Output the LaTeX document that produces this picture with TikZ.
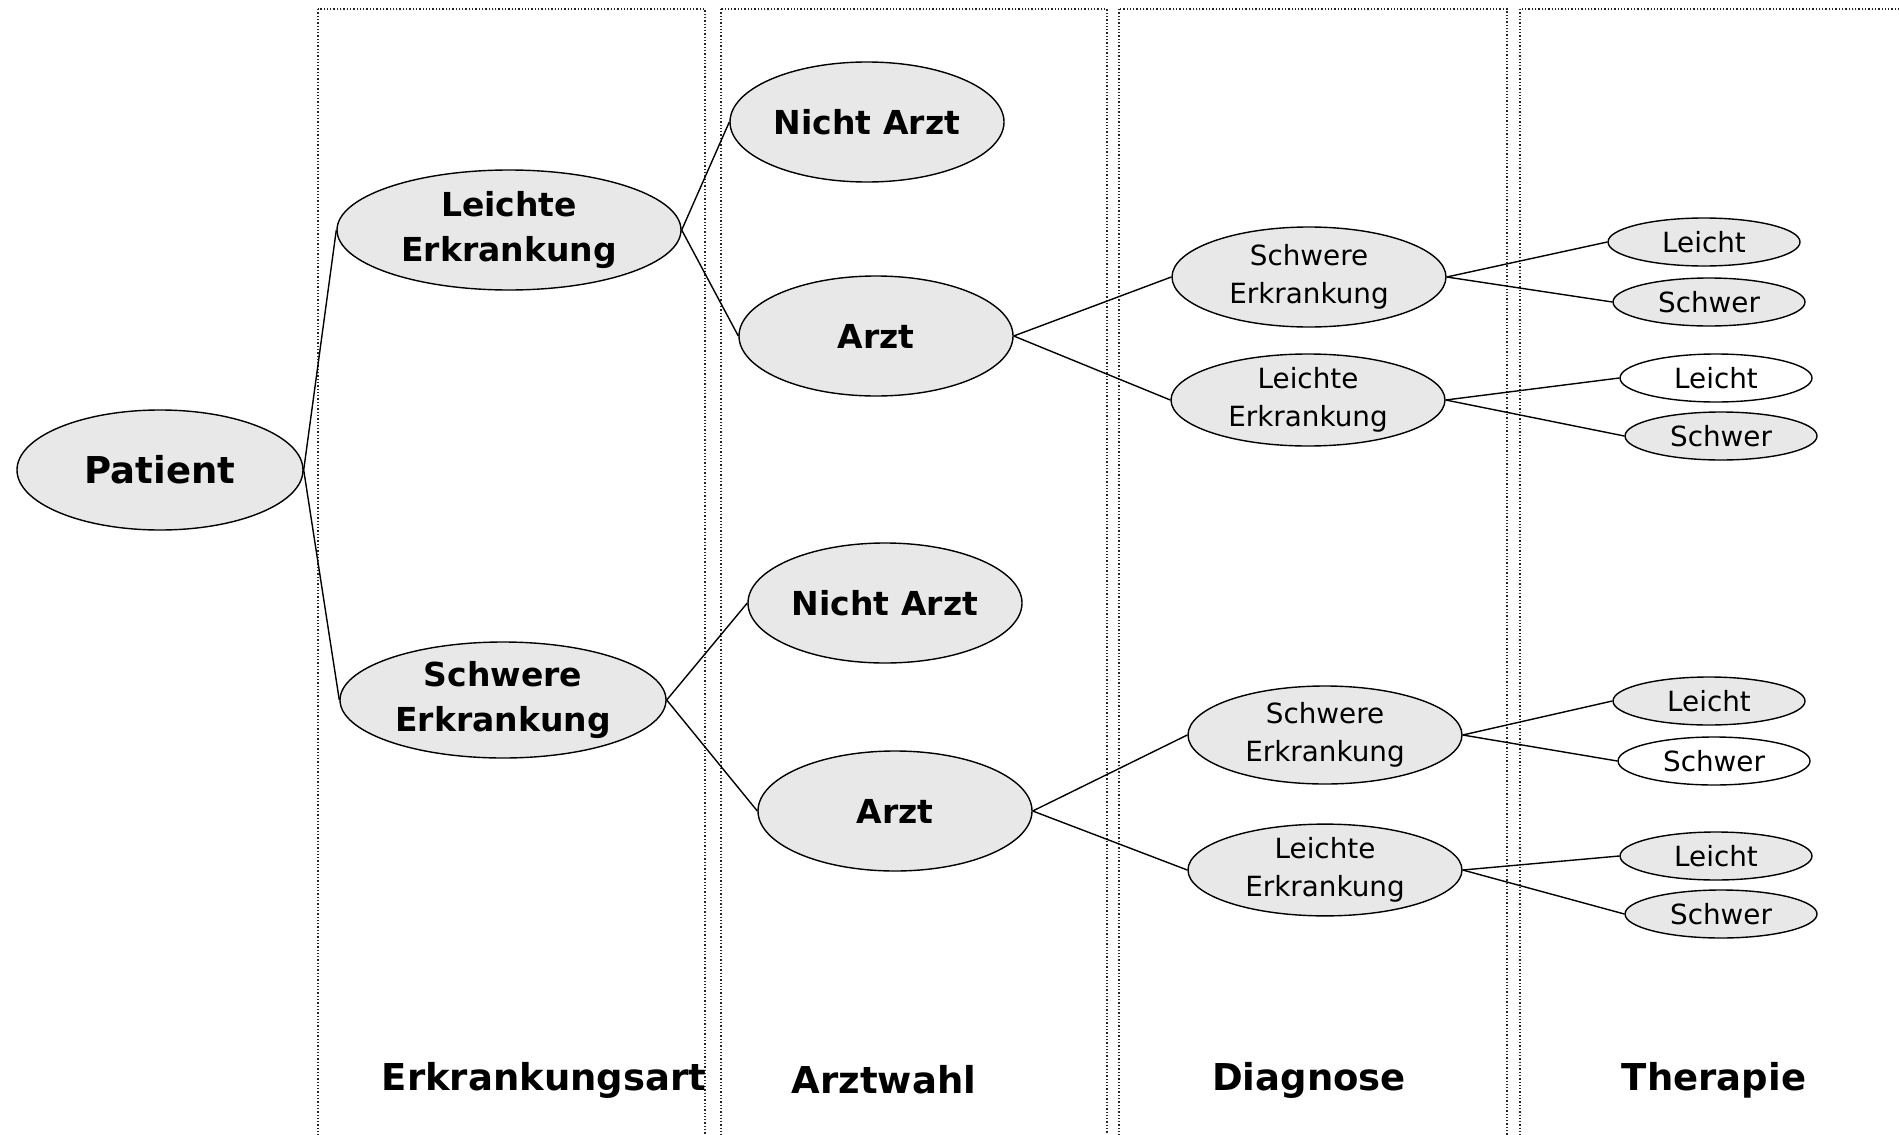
\documentclass[tikz,border=0pt]{standalone}
\usepackage{fontspec}
\setmainfont{DejaVu Sans}
\usepackage{xcolor}
\usetikzlibrary{shapes.geometric}

\definecolor{stategray}{RGB}{232,232,232}
\tikzset{
  bigstate/.style={ellipse, draw, line width=1.4pt, fill=stategray, inner sep=0pt,
    minimum width=274pt, minimum height=120pt, align=center,
    font=\bfseries\fontsize{33}{45}\selectfont},
  midstate/.style={ellipse, draw, line width=1.4pt, fill=stategray, inner sep=0pt,
    minimum width=274pt, minimum height=96pt, align=center,
    font=\fontsize{27.8}{38}\selectfont},
  leafstate/.style={ellipse, draw, line width=1.4pt, fill=stategray, inner sep=0pt,
    minimum width=192pt, minimum height=48pt,
    font=\fontsize{27.8}{38}\selectfont},
  blank/.style={fill=white},
  lane/.style={draw=black!85, dotted, line width=1.3pt},
  heading/.style={font=\bfseries\fontsize{37}{44}\selectfont},
  branch/.style={line width=1.4pt}
}

\begin{document}
\begin{tikzpicture}[x=1pt, y=-1pt]
	\useasboundingbox (0,0) rectangle (1899,1135);
	\clip (0,0) rectangle (1899,1135);

	% columns
	\draw[lane] (318,9) rectangle (705,1150);
	\draw[lane] (721,9) rectangle (1107,1150);
	\draw[lane] (1119,9) rectangle (1507,1150);
	\draw[lane] (1520,9) rectangle (1920,1150);

	\node[heading] (hErk) at (544,1080) {Erkrankungsart};
	\node[heading] (hArzt) at (884,1080) {Arztwahl};
	\node[heading] (hDiag) at (1309,1080) {Diagnose};
	\node[heading] (hTher) at (1714,1080) {Therapie};

	% tree
	\node[bigstate, minimum width=286pt, font=\bfseries\fontsize{37}{44}\selectfont] (patient) at (160,470) {Patient};
	\node[bigstate, minimum width=344pt] (leicht) at (509,230) {Leichte\\Erkrankung};
	\node[bigstate, minimum width=326pt, minimum height=116pt] (schwer) at (503,700) {Schwere\\Erkrankung};

	\node[bigstate] (nichtA) at (867,122) {Nicht Arzt};
	\node[bigstate] (arztA) at (876,336) {Arzt};
	\node[bigstate] (nichtB) at (885,603) {Nicht Arzt};
	\node[bigstate] (arztB) at (895,811) {Arzt};

	\node[midstate, minimum height=100pt] (diagAS) at (1309,277) {Schwere\\Erkrankung};
	\node[midstate, minimum height=92pt] (diagAL) at (1308,400) {Leichte\\Erkrankung};
	\node[midstate, minimum height=98pt] (diagBS) at (1325,735) {Schwere\\Erkrankung};
	\node[midstate, minimum height=90pt] (diagBL) at (1325,870) {Leichte\\Erkrankung};

	\node[leafstate] (thA1) at (1704,242) {Leicht};
	\node[leafstate] (thA2) at (1709,302) {Schwer};
	\node[leafstate, blank] (thA3) at (1716,378) {Leicht};
	\node[leafstate] (thA4) at (1721,436) {Schwer};
	\node[leafstate] (thB1) at (1709,701) {Leicht};
	\node[leafstate, blank] (thB2) at (1714,761) {Schwer};
	\node[leafstate] (thB3) at (1716,856) {Leicht};
	\node[leafstate] (thB4) at (1721,914) {Schwer};

	\path[branch]
	(patient.east) edge (leicht.west)
	(patient.east) edge (schwer.west)
	(leicht.east) edge (nichtA.west)
	(leicht.east) edge (arztA.west)
	(schwer.east) edge (nichtB.west)
	(schwer.east) edge (arztB.west)
	(arztA.east) edge (diagAS.west)
	(arztA.east) edge (diagAL.west)
	(arztB.east) edge (diagBS.west)
	(arztB.east) edge (diagBL.west)
	(diagAS.east) edge (thA1.west)
	(diagAS.east) edge (thA2.west)
	(diagAL.east) edge (thA3.west)
	(diagAL.east) edge (thA4.west)
	(diagBS.east) edge (thB1.west)
	(diagBS.east) edge (thB2.west)
	(diagBL.east) edge (thB3.west)
	(diagBL.east) edge (thB4.west);
\end{tikzpicture}
\end{document}
